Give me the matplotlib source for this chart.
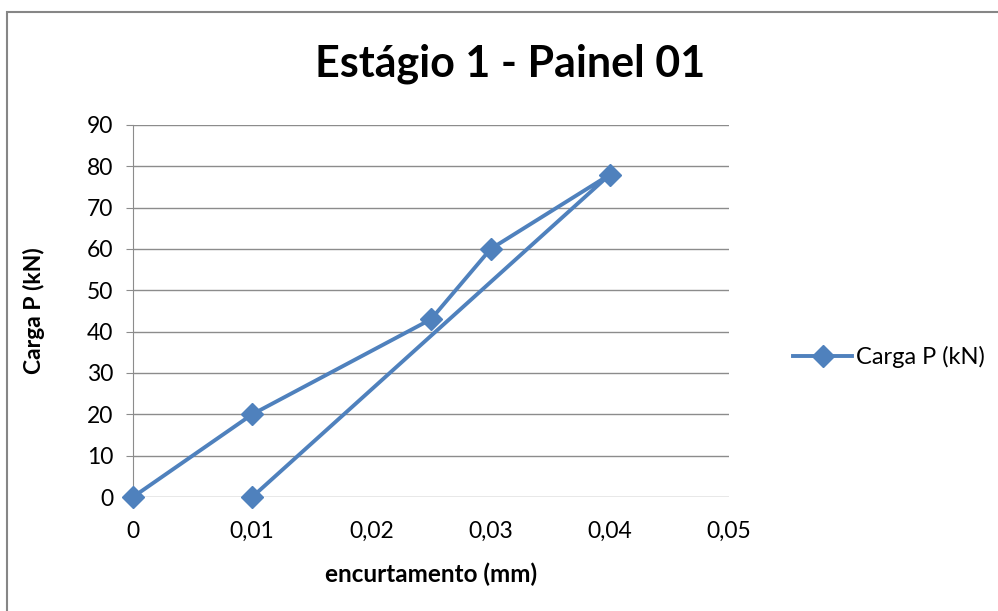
import matplotlib
matplotlib.use("Agg")
import matplotlib.pyplot as plt
from matplotlib.patches import Rectangle
from matplotlib.ticker import FixedLocator, FuncFormatter

# Load-shortening data, in test order (loading then unloading)
encurtamento = [0.0, 0.01, 0.025, 0.03, 0.04, 0.01]
carga = [0, 20, 43, 60, 78, 0]

x_ticks = [0, 0.01, 0.02, 0.03, 0.04, 0.05]
y_ticks = [0, 10, 20, 30, 40, 50, 60, 70, 80, 90]

plt.rcParams['font.family'] = ['Lato', 'DejaVu Sans']

W, H = 998, 611
fig = plt.figure(figsize=(W / 100, H / 100), dpi=100)
fig.patch.set_facecolor('white')

# chart frame
fig.patches.append(Rectangle((7 / W, -0.1), 1.2, (H - 12) / H + 0.1,
                             transform=fig.transFigure, fill=False,
                             edgecolor='#868686', linewidth=1.5))

left, right = 133 / W, 729 / W
bottom, top = 1 - 497 / H, 1 - 125 / H
ax = fig.add_axes([left, bottom, right - left, top - bottom])

ax.plot(encurtamento, carga, color='#4F81BD', linewidth=2.8,
        marker='D', markersize=11, markeredgecolor='#4F81BD',
        label='Carga P (kN)', clip_on=False, zorder=3)

ax.set_xlim(0, 0.05)
ax.set_ylim(0, 90)
ax.xaxis.set_major_locator(FixedLocator(x_ticks))
ax.yaxis.set_major_locator(FixedLocator(y_ticks))
ax.xaxis.set_major_formatter(FuncFormatter(
    lambda v, p: '0' if v == 0 else f'{v:.2f}'.replace('.', ',')))
ax.yaxis.set_major_formatter(FuncFormatter(lambda v, p: f'{int(v)}'))

ax.grid(axis='y', color='#8C8C8C', linewidth=1.0)
ax.set_axisbelow(True)
for s in ['top', 'right', 'bottom']:
    ax.spines[s].set_visible(False)
ax.spines['left'].set_color('#8C8C8C')
ax.tick_params(axis='y', length=5, color='#8C8C8C', labelsize=16.5, pad=9)
ax.tick_params(axis='x', length=0, labelsize=16.5, pad=17)

ax.set_xlabel('encurtamento (mm)', fontsize=17.5, fontweight='bold', labelpad=15)
ax.set_ylabel('Carga P (kN)', fontsize=16.5, fontweight='bold', labelpad=30)

fig.text(510 / W, 1 - 64 / H, 'Estágio 1 - Painel 01', ha='center',
         va='center', fontsize=31, fontweight='bold')

ax.legend(loc='center left', bbox_to_anchor=(772 / W, 1 - 357 / H),
          bbox_transform=fig.transFigure, frameon=False, fontsize=17,
          handlelength=2.5, handletextpad=0.15)

fig.savefig('out.png', dpi=100)
